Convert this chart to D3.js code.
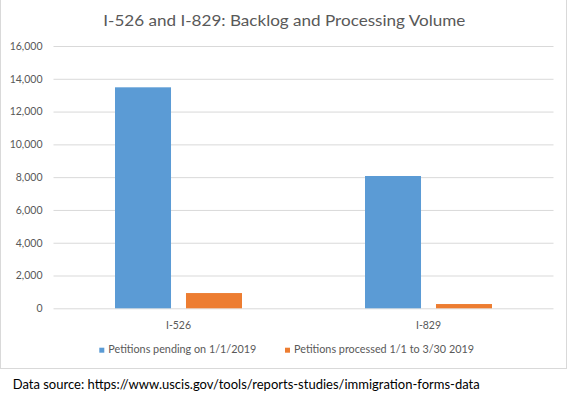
<!DOCTYPE html>
<html>
<head>
<meta charset="utf-8">
<script src="https://cdn.jsdelivr.net/npm/d3@7"></script>
<style>
  html, body { margin: 0; padding: 0; background: #fff; }
  svg { display: block; font-family: Lato, Roboto, "Noto Sans", sans-serif; }
</style>
</head>
<body>
<div id="chart"></div>
<script>
'use strict';

// chart data
var categories = ['I-526', 'I-829'];
var seriesNames = ['Petitions pending on 1/1/2019', 'Petitions processed 1/1 to 3/30 2019'];
var pendingValues = [13480, 8070];
var processedValues = [930, 260];
var yTickValues = [0, 2000, 4000, 6000, 8000, 10000, 12000, 14000, 16000];
var seriesColors = ['#5B9BD5', '#ED7D31'];
var titleText = 'I-526 and I-829: Backlog and Processing Volume';
var sourceText = 'Data source: https://www.uscis.gov/tools/reports-studies/immigration-forms-data';

var width = 569, height = 396;
var plot = { left: 53.5, right: 553.5, top: 46, bottom: 308.3 };

var svg = d3.select('#chart').append('svg')
  .attr('width', width)
  .attr('height', height);

svg.append('rect')
  .attr('width', width)
  .attr('height', height)
  .attr('fill', 'white');

// chart area frame (top edge sits outside the picture)
svg.append('rect')
  .attr('x', 0.5)
  .attr('y', -1)
  .attr('width', 566)
  .attr('height', 369.5)
  .attr('fill', 'none')
  .attr('stroke', '#d9d9d9');

// squeeze text to the width it had in the original
function fitWidth(sel, target) {
  var w = sel.node().getComputedTextLength();
  if (Math.abs(w - target) > 2) {
    sel.attr('textLength', target).attr('lengthAdjust', 'spacingAndGlyphs');
  }
}

var title = svg.append('text')
  .attr('x', 103.3)
  .attr('y', 25.7)
  .attr('fill', '#595959')
  .style('font-size', '15px')
  .text(titleText);
fitWidth(title, 362);

var x0 = d3.scaleBand()
  .domain(categories)
  .range([plot.left, plot.right])
  .paddingInner(0.492)
  .paddingOuter(0.246);

var x1 = d3.scaleBand()
  .domain(d3.range(seriesNames.length))
  .range([0, x0.bandwidth()])
  .paddingInner(0.211);

var y = d3.scaleLinear()
  .domain([0, 16000])
  .range([plot.bottom, plot.top]);

// gridlines and value labels
var yAxis = d3.axisLeft(y)
  .tickValues(yTickValues)
  .tickSize(-(plot.right - plot.left))
  .tickPadding(11)
  .tickFormat(d3.format(','));

var gy = svg.append('g')
  .attr('transform', 'translate(' + plot.left + ',0)')
  .call(yAxis);
gy.select('.domain').remove();
gy.selectAll('.tick line').attr('stroke', '#d9d9d9');
gy.selectAll('.tick text')
  .attr('fill', '#595959')
  .style('font-size', '10.5px')
  .style('font-family', 'Lato, Roboto, sans-serif');

var seriesData = [pendingValues, processedValues];

var groups = svg.append('g').selectAll('g')
  .data(categories)
  .enter().append('g')
  .attr('transform', function(d) { return 'translate(' + x0(d) + ',0)'; });

groups.selectAll('rect')
  .data(function(d, i) {
    return seriesData.map(function(vals, s) { return { s: s, v: vals[i] }; });
  })
  .enter().append('rect')
  .attr('x', function(d) { return x1(d.s); })
  .attr('width', x1.bandwidth())
  .attr('y', function(d) { return y(d.v); })
  .attr('height', function(d) { return y(0) - y(d.v); })
  .attr('fill', function(d) { return seriesColors[d.s]; });

// category axis
var xAxis = d3.axisBottom(x0).tickSize(0).tickPadding(13);
var gx = svg.append('g')
  .attr('transform', 'translate(0,' + plot.bottom + ')')
  .call(xAxis);
gx.select('.domain').remove();
gx.selectAll('.tick text')
  .attr('fill', '#595959')
  .style('font-size', '10.5px')
  .style('font-family', 'Lato, Roboto, sans-serif');

// legend
var legendX = [99.3, 285];
var legendW = [148, 180];
var legend = svg.append('g').selectAll('g')
  .data(seriesNames)
  .enter().append('g')
  .attr('transform', function(d, i) { return 'translate(' + legendX[i] + ',0)'; });

legend.append('rect')
  .attr('x', 0)
  .attr('y', 347.7)
  .attr('width', 5)
  .attr('height', 5)
  .attr('fill', function(d, i) { return seriesColors[i]; });

legend.append('text')
  .attr('x', 9)
  .attr('y', 353.3)
  .attr('fill', '#595959')
  .style('font-size', '10.5px')
  .text(function(d) { return d; })
  .each(function(d, i) { fitWidth(d3.select(this), legendW[i]); });

var source = svg.append('text')
  .attr('x', 12.7)
  .attr('y', 389)
  .attr('fill', '#000')
  .style('font-size', '13.8px')
  .text(sourceText);
fitWidth(source, 467);
</script>
</body>
</html>
